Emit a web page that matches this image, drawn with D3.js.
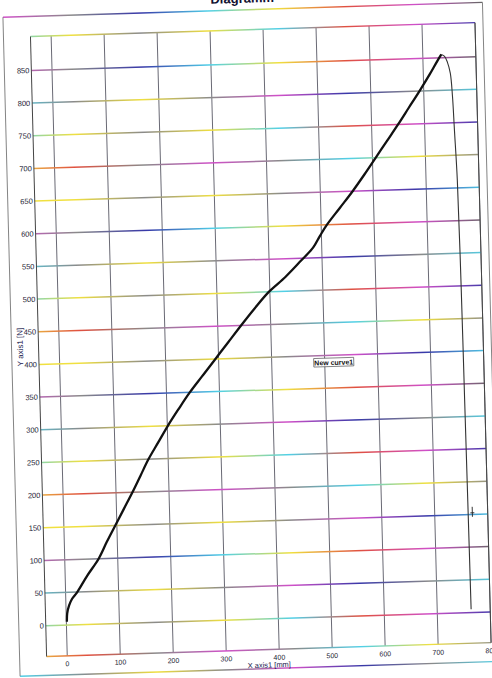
<!DOCTYPE html>
<html>
<head>
<meta charset="utf-8">
<script src="https://cdn.jsdelivr.net/npm/d3@7"></script>
<style>
    body {margin: 0; background: #fff;}
    svg {display: block;}
    text {font-family: "Liberation Sans", Arial, sans-serif;}
</style>
</head>
<body>
<svg id="chart" width="492" height="678"></svg>
<script>
/*************************************************************************************************************
 * Data
 *************************************************************************************************************/
// loading part of the curve, X axis1 [mm] / Y axis1 [N]
let riseX = [1, 2, 6, 12, 22, 42, 64, 80, 97, 114, 131, 147, 163, 182, 201, 222, 244, 269, 294, 319, 344,
    370, 398, 430, 460, 484, 497, 511, 536, 561, 584, 606, 628, 650, 671, 692, 712, 727, 735];
let riseY = [5, 18, 30, 40, 50, 75, 100, 125, 150, 175, 200, 225, 250, 275, 300, 325, 350, 375, 400, 425, 450,
    475, 500, 522, 546, 566, 583, 600, 625, 650, 675, 700, 725, 750, 775, 800, 825, 845, 855];
// break: force drops after the peak
let dropX = [735, 741, 746, 751, 754, 756, 759, 761, 762, 763, 764];
let dropY = [855, 852, 843, 826, 790, 739, 662, 500, 330, 170, 5];
// cursor mark at the right
let markX = [771];
let markY = [154];

let xTicks = [0, 100, 200, 300, 400, 500, 600, 700, 800];
let yTicks = [0, 50, 100, 150, 200, 250, 300, 350, 400, 450, 500, 550, 600, 650, 700, 750, 800, 850];
let title = 'Diagramm';
let xTitle = 'X axis1 [mm]';
let yTitle = 'Y axis1 [N]';
let legendLabel = 'New curve1';
let legendAt = [517, 389];

// colour bands the scanner left on the horizontal lines
let bandColours = [
    ['#f0e040', '#f0e040', '#8a8a8a', '#f0e040', '#8a8a8a', '#d050c8', '#3838a8', '#50d0e8'],
    ['#50d0e8', '#f0e040', '#8a8a8a', '#f0e040', '#50d0e8', '#e05040', '#d050c8', '#3838a8'],
    ['#d050c8', '#8a8a8a', '#3838a8', '#50d0e8', '#f0e040', '#e05040', '#d050c8', '#666'],
    ['#f0e040', '#e05040', '#8a8a8a', '#d050c8', '#8a8a8a', '#50d0e8', '#f0e040', '#8a8a8a'],
    ['#50d0e8', '#8a8a8a', '#f0e040', '#8a8a8a', '#d050c8', '#3838a8', '#8a8a8a', '#50d0e8']
];

/*************************************************************************************************************
 * Drawing
 *************************************************************************************************************/
let svg = d3.select('#chart');

let plot = {left: 38.5, right: 483, top: 30, bottom: 650};
let frame = {left: 11.5, right: 491, top: 10, bottom: 669};

// the sheet was scanned slightly crooked
let g = svg.append('g')
    .attr('transform', 'translate(246,339) matrix(1,-0.031,0.026,1,0,0) translate(-246,-339)');

let x = d3.scaleLinear().domain([-39, 800]).range([plot.left, plot.right]);
let y = d3.scaleLinear().domain([-47, 902]).range([plot.bottom, plot.top]);

let defs = svg.append('defs');
bandColours.forEach((colours, i) => {
    let grad = defs.append('linearGradient')
        .attr('id', 'band' + i)
        .attr('gradientUnits', 'userSpaceOnUse')
        .attr('x1', frame.left).attr('x2', frame.right)
        .attr('y1', 0).attr('y2', 0);
    colours.forEach((c, j) => {
        grad.append('stop')
            .attr('offset', j / (colours.length - 1))
            .attr('stop-color', c);
    });
});

function hLine(x1, x2, yy, i, w) {
    g.append('line')
        .attr('x1', x1).attr('x2', x2)
        .attr('y1', yy).attr('y2', yy)
        .attr('stroke', 'url(#band' + (i % bandColours.length) + ')')
        .attr('stroke-width', w);
}

// outer frame
hLine(frame.left, frame.right, frame.top, 2, 1.4);
hLine(frame.left, frame.right, frame.bottom, 4, 1.4);
g.append('line').attr('x1', frame.left).attr('x2', frame.left)
    .attr('y1', frame.top).attr('y2', frame.bottom)
    .attr('stroke', '#777').attr('stroke-width', 0.9);
g.append('line').attr('x1', frame.right).attr('x2', frame.right)
    .attr('y1', frame.top).attr('y2', frame.bottom)
    .attr('stroke', '#777').attr('stroke-width', 0.9);

// vertical grid
g.selectAll('.vgrid')
    .data(xTicks)
    .enter().append('line')
    .attr('class', 'vgrid')
    .attr('x1', d => x(d)).attr('x2', d => x(d))
    .attr('y1', plot.top).attr('y2', plot.bottom)
    .attr('stroke', '#5a5a66')
    .attr('stroke-width', 0.9);

// horizontal grid, coloured
yTicks.forEach((t, i) => hLine(plot.left, plot.right, y(t), i * 3 + 1, 1.5));

// plot border
hLine(plot.left, plot.right, plot.top, 1, 1.4);
hLine(plot.left, plot.right, plot.bottom, 3, 1.4);
g.append('line').attr('x1', plot.left).attr('x2', plot.left)
    .attr('y1', plot.top).attr('y2', plot.bottom)
    .attr('stroke', '#444').attr('stroke-width', 1);
g.append('line').attr('x1', plot.right).attr('x2', plot.right)
    .attr('y1', plot.top).attr('y2', plot.bottom)
    .attr('stroke', '#444').attr('stroke-width', 1);

// tick labels
g.selectAll('.ylab')
    .data(yTicks)
    .enter().append('text')
    .attr('class', 'ylab')
    .attr('x', plot.left - 2)
    .attr('y', d => y(d))
    .attr('dy', '0.35em')
    .attr('text-anchor', 'end')
    .attr('font-size', '7.5px')
    .attr('fill', '#222233')
    .text(d => d);

g.selectAll('.xlab')
    .data(xTicks)
    .enter().append('text')
    .attr('class', 'xlab')
    .attr('x', d => x(d))
    .attr('y', plot.bottom + 10.5)
    .attr('text-anchor', 'middle')
    .attr('font-size', '7px')
    .attr('fill', '#222233')
    .text(d => d);

// titles
g.append('text')
    .attr('x', 251).attr('y', 3)
    .attr('text-anchor', 'middle')
    .attr('font-size', '13px')
    .attr('font-weight', 'bold')
    .attr('fill', '#101030')
    .text(title);

g.append('text')
    .attr('x', (plot.left + plot.right) / 2).attr('y', plot.bottom + 18)
    .attr('text-anchor', 'middle')
    .attr('font-size', '7.5px')
    .attr('fill', '#1a1a50')
    .text(xTitle);

g.append('text')
    .attr('transform', 'translate(20,340) rotate(-90)')
    .attr('text-anchor', 'middle')
    .attr('dy', '0.35em')
    .attr('font-size', '8px')
    .attr('fill', '#1a1a50')
    .text(yTitle);

// the curve
let line = d3.line()
    .curve(d3.curveCatmullRom)
    .x(d => x(d[0]))
    .y(d => y(d[1]));

g.append('path')
    .datum(riseX.map((v, i) => [v, riseY[i]]))
    .attr('d', line)
    .attr('fill', 'none')
    .attr('stroke', '#111')
    .attr('stroke-width', 2.3)
    .attr('stroke-linejoin', 'round');

g.append('path')
    .datum(dropX.map((v, i) => [v, dropY[i]]))
    .attr('d', line)
    .attr('fill', 'none')
    .attr('stroke', '#333')
    .attr('stroke-width', 1.1);

// cursor mark
markX.forEach((v, i) => {
    g.append('line')
        .attr('x1', x(v)).attr('x2', x(v))
        .attr('y1', y(markY[i]) - 5).attr('y2', y(markY[i]) + 5)
        .attr('stroke', '#222').attr('stroke-width', 0.9);
    g.append('line')
        .attr('x1', x(v) - 2).attr('x2', x(v) + 2)
        .attr('y1', y(markY[i]) + 1).attr('y2', y(markY[i]) + 1)
        .attr('stroke', '#222').attr('stroke-width', 0.9);
});

// legend
let lg = g.append('g')
    .attr('transform', 'translate(' + x(legendAt[0]) + ',' + y(legendAt[1]) + ')');
lg.append('rect')
    .attr('x', -20).attr('y', -4.5)
    .attr('width', 40).attr('height', 8.5)
    .attr('fill', '#fff')
    .attr('stroke', '#333')
    .attr('stroke-width', 0.6);
lg.append('text')
    .attr('text-anchor', 'middle')
    .attr('dy', '0.35em')
    .attr('font-size', '7px')
    .attr('font-weight', 'bold')
    .attr('fill', '#111')
    .text(legendLabel);
</script>
</body>
</html>
